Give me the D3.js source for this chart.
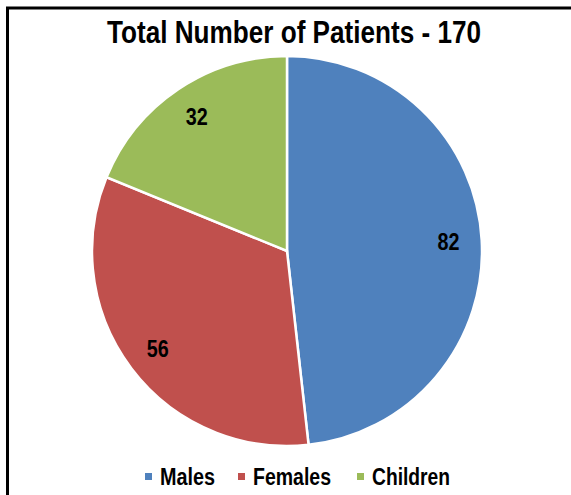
<!DOCTYPE html>
<html>
<head>
<meta charset="utf-8">
<script src="https://cdn.jsdelivr.net/npm/d3@7"></script>
<style>
  body { margin: 0; background: #fff; }
  text { font-family: "Liberation Sans", Arial, sans-serif; font-weight: bold; }
</style>
</head>
<body>
<svg id="chart"></svg>
<script>
(function() {

// data
var categories = ['Males', 'Females', 'Children'];
var patients = [82, 56, 32];
var colors = ['#4F81BD', '#C0504D', '#9BBB59'];
var title = 'Total Number of Patients - 170';

var full_width = 571,
    full_height = 495,
    cx = 287,
    cy = 251,
    radius = 195;

var data = categories.map(function(d, i) {
  return { 'group': d, 'count': patients[i] };
});

var svg = d3.select("#chart")
    .attr("width", full_width)
    .attr("height", full_height);

// frame (top + left edges visible)
svg.append("path")
    .attr("d", "M7.5,500 V8 H575")
    .attr("fill", "none")
    .attr("stroke", "#000")
    .attr("stroke-width", 3);

// narrow bold look: squeeze glyphs with textLength
svg.append("text")
    .attr("x", 107)
    .attr("y", 43)
    .attr("font-size", 31)
    .attr("textLength", 374)
    .attr("lengthAdjust", "spacingAndGlyphs")
    .text(title);

var pie = d3.pie()
    .sort(null)
    .value(function(d) { return d.count; });

var arc = d3.arc()
    .outerRadius(radius)
    .innerRadius(0);

var labelArc = d3.arc()
    .outerRadius(radius * 0.83)
    .innerRadius(radius * 0.83);

var g = svg.append("g")
    .attr("transform", "translate(" + cx + "," + cy + ")");

var arcs = g.selectAll(".arc")
    .data(pie(data))
    .enter().append("g")
    .attr("class", "arc");

arcs.append("path")
    .attr("d", arc)
    .attr("fill", function(d, i) { return colors[i]; })
    .attr("stroke", "#fff")
    .attr("stroke-width", 2.5);

arcs.append("text")
    .attr("transform", function(d) { var c = labelArc.centroid(d); return "translate(" + (c[0] - 11) + "," + c[1] + ")"; })
    .attr("dy", "0.35em")
    .attr("font-size", 23)
    .attr("textLength", 22)
    .attr("lengthAdjust", "spacingAndGlyphs")
    .text(function(d) { return d.data.count; });

// legend
var legendX = [145, 238, 357];
var legendW = [55, 78, 78];
var legend = svg.append("g")
    .selectAll("g")
    .data(data)
    .enter().append("g")
    .attr("transform", function(d, i) { return "translate(" + legendX[i] + ",477)"; });

legend.append("rect")
    .attr("x", 0)
    .attr("y", -4)
    .attr("width", 7)
    .attr("height", 7)
    .attr("fill", function(d, i) { return colors[i]; });

legend.append("text")
    .attr("x", 15)
    .attr("dy", "0.36em")
    .attr("font-size", 23)
    .attr("textLength", function(d, i) { return legendW[i]; })
    .attr("lengthAdjust", "spacingAndGlyphs")
    .text(function(d) { return d.group; });

})();
</script>
</body>
</html>
